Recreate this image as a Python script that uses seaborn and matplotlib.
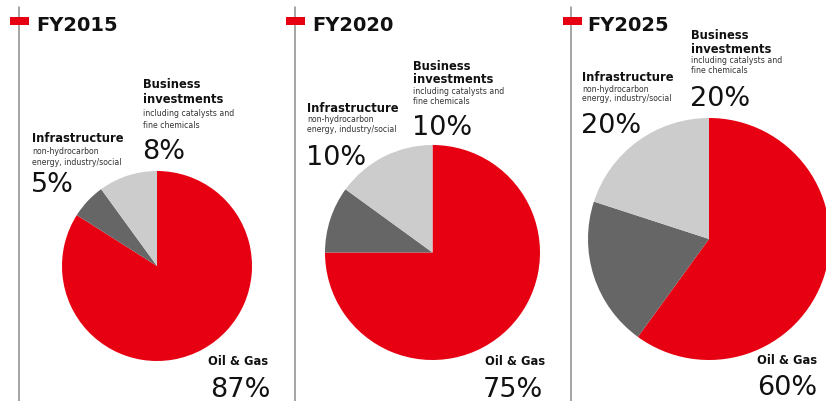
import matplotlib
matplotlib.use("Agg")
import matplotlib.pyplot as plt
import seaborn as sns
from matplotlib.patches import Rectangle

# data
years = ["FY2015", "FY2020", "FY2025"]
segments = ["Oil & Gas", "Infrastructure", "Business investments"]
# wedge shares as drawn in the picture (clockwise from 12 o'clock)
oil_gas_share = [84, 75, 60]
infra_share = [6, 10, 20]
business_share = [10, 15, 20]
# percentages printed as labels
oil_gas_label = ["87%", "75%", "60%"]
infra_label = ["5%", "10%", "20%"]
business_label = ["8%", "10%", "20%"]

colors = ["#E60012", "#666666", "#CCCCCC"]

sns.set_theme(style="white")
plt.rcParams["font.family"] = ["DejaVu Sans"]

W, H = 826, 402
fig = plt.figure(figsize=(W / 100, H / 100), dpi=100)
ax = fig.add_axes([0, 0, 1, 1])


def Y(y):
    # pixel rows from the top -> axis units
    return H - y


# layout of each panel in pixels (x, y from top-left)
panels = [
    dict(line_x=18.5, title_x=36, center=(157, 267), r=95,
         bus=(143, [88, 103, 116, 128, 159]),
         inf=(32, [142, 154, 165, 192]),
         oil=(268, 365, 270, 397)),
    dict(line_x=294.5, title_x=312, center=(432.5, 253.5), r=107.5,
         bus=(413, [70, 83, 94, 104, 135]),
         inf=(307, [112, 122, 132, 165]),
         oil=(545, 365, 543, 397)),
    dict(line_x=571, title_x=587, center=(709, 240), r=121,
         bus=(691, [39, 53, 63, 73, 106]),
         inf=(582, [81, 92, 101, 133]),
         oil=(817, 364, 817, 395)),
]

head_kw = dict(fontsize=8.3, fontweight="bold", color="#111111", va="baseline")
small_kw = dict(fontsize=5.6, color="#333333", va="baseline")
pct_kw = dict(fontsize=19.5, color="#111111", va="baseline")

for i, p in enumerate(panels):
    shares = [oil_gas_share[i], infra_share[i], business_share[i]]
    cx, cy = p["center"]
    ax.pie(shares, colors=colors, startangle=90, counterclock=False,
           center=(cx, Y(cy)), radius=p["r"],
           wedgeprops=dict(linewidth=0))

    # divider line and red title marker
    ax.plot([p["line_x"], p["line_x"]], [Y(8), Y(402)], color="#8c8c8c", lw=1.1)
    ax.add_patch(Rectangle((p["line_x"] - 8.5, Y(26)), 19, 8,
                           facecolor="#E60012", edgecolor="none", zorder=3))
    ax.text(p["title_x"], Y(31), years[i], fontsize=14, fontweight="bold",
            color="#111111", va="baseline")

    # business investments label
    bx, by = p["bus"]
    ax.text(bx, Y(by[0]), "Business", **head_kw)
    ax.text(bx, Y(by[1]), "investments", **head_kw)
    ax.text(bx, Y(by[2]), "including catalysts and", **small_kw)
    ax.text(bx, Y(by[3]), "fine chemicals", **small_kw)
    ax.text(bx - 1, Y(by[4]), business_label[i], **pct_kw)

    # infrastructure label
    ix, iy = p["inf"]
    ax.text(ix, Y(iy[0]), "Infrastructure", **head_kw)
    ax.text(ix, Y(iy[1]), "non-hydrocarbon", **small_kw)
    ax.text(ix, Y(iy[2]), "energy, industry/social", **small_kw)
    ax.text(ix - 1, Y(iy[3]), infra_label[i], **pct_kw)

    # oil & gas label
    ox, oy, px, py = p["oil"]
    ax.text(ox, Y(oy), "Oil & Gas", ha="right", **head_kw)
    ax.text(px, Y(py), oil_gas_label[i], ha="right", **pct_kw)

ax.set_xlim(0, W)
ax.set_ylim(0, H)
ax.set_aspect("equal")
ax.axis("off")

fig.savefig("out.png", dpi=100, facecolor="white")
